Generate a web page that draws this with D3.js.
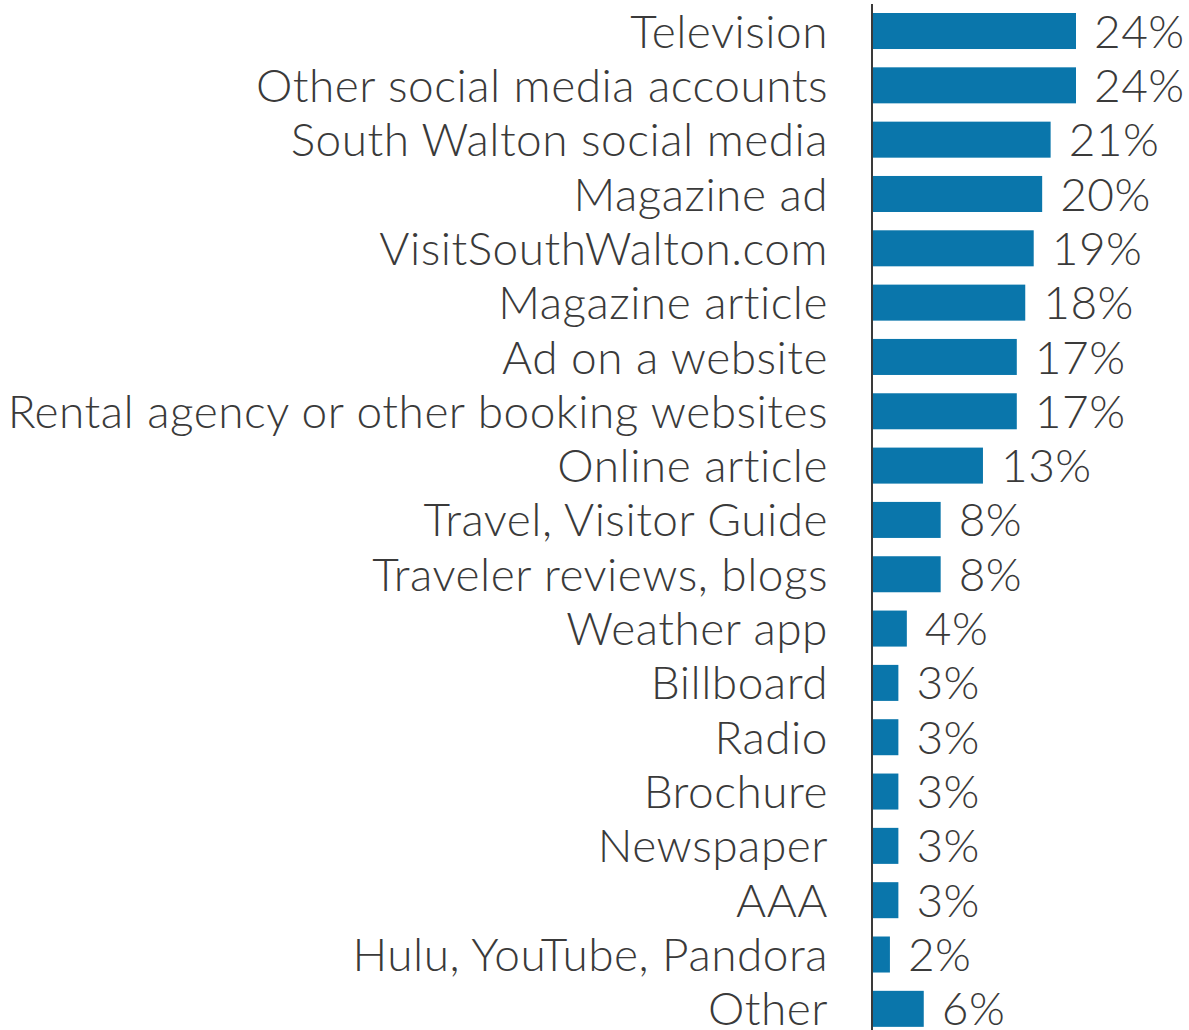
<!DOCTYPE html>
<html><head><meta charset="utf-8">
<script src="https://cdn.jsdelivr.net/npm/d3@7"></script>
<style>html,body{margin:0;padding:0;background:#fff;}svg{display:block;}</style>
</head><body>
<script>
const categories = ["Television","Other social media accounts","South Walton social media","Magazine ad","VisitSouthWalton.com","Magazine article","Ad on a website","Rental agency or other booking websites","Online article","Travel, Visitor Guide","Traveler reviews, blogs","Weather app","Billboard","Radio","Brochure","Newspaper","AAA","Hulu, YouTube, Pandora","Other"];
const values = [24,24,21,20,19,18,17,17,13,8,8,4,3,3,3,3,3,2,6];
const valueLabels = ["24%","24%","21%","20%","19%","18%","17%","17%","13%","8%","8%","4%","3%","3%","3%","3%","3%","2%","6%"];

const W = 1189, H = 1030;
const svg = d3.select("body").append("svg").attr("width", W).attr("height", H);
const x0 = 873;
const x = d3.scaleLinear().domain([0, 24]).range([x0, 1076]);
const y = d3.scaleBand().domain(categories).range([3.85, 1036]).paddingInner(0.337).paddingOuter(0.1685);

svg.append("g").selectAll("rect").data(values).join("rect")
  .attr("x", x(0)).attr("y", (d,i)=>y(categories[i]))
  .attr("width", d=>x(d)-x(0)).attr("height", y.bandwidth())
  .attr("fill", "#0a76ab");

svg.append("line").attr("x1", 872).attr("x2", 872).attr("y1", 4).attr("y2", H)
  .attr("stroke", "#3a3a3a").attr("stroke-width", 2);

const font = "Lato";
svg.append("g").selectAll("text").data(categories).join("text")
  .attr("x", 828).attr("y", d=>y(d)+y.bandwidth()/2)
  .attr("dy", "0.36em").attr("text-anchor", "end")
  .attr("font-family", font).attr("font-weight", 300).attr("font-size", 46)
  .attr("letter-spacing", 0.5)
  .attr("fill", "#3a3a3a").text(d=>d);

svg.append("g").selectAll("text").data(values).join("text")
  .attr("x", d=>x(d)+18).attr("y", (d,i)=>y(categories[i])+y.bandwidth()/2)
  .attr("dy", "0.36em")
  .attr("font-family", font).attr("font-weight", 300).attr("font-size", 46)
  .attr("letter-spacing", 0.5)
  .attr("fill", "#3a3a3a").text((d,i)=>valueLabels[i]);
</script>
</body></html>
